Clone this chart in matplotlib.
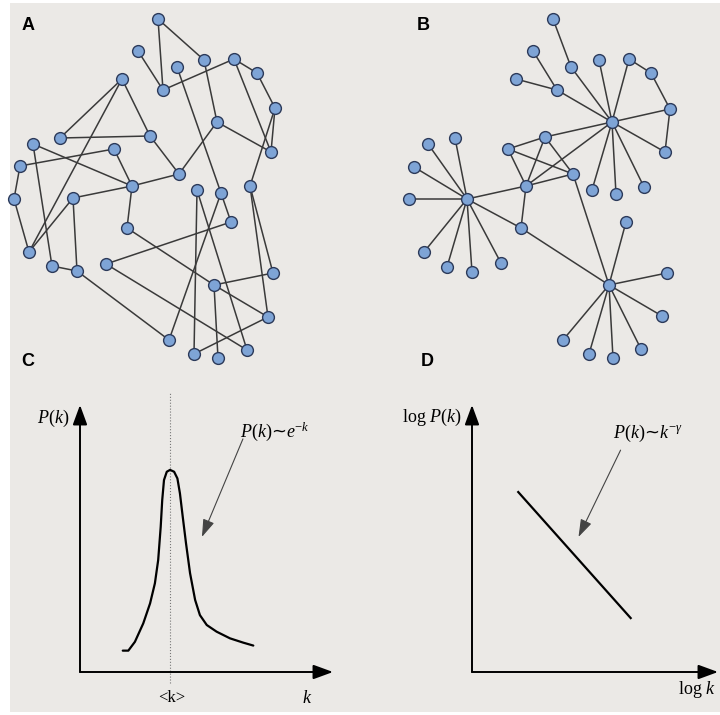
import numpy as np
import matplotlib
matplotlib.use("Agg")
import matplotlib.pyplot as plt
from matplotlib.patches import Rectangle

plt.rcParams['mathtext.fontset'] = 'custom'
plt.rcParams['mathtext.rm'] = 'Liberation Serif'
plt.rcParams['mathtext.it'] = 'Liberation Serif:italic'

# network A: random graph (pixel positions)
a_x = [158, 138, 204, 177, 234, 257, 163, 122, 275, 217, 60, 150, 33, 114, 271, 20, 179, 132,
       197, 221, 250, 14, 73, 231, 127, 29, 52, 77, 106, 273, 214, 268, 169, 194, 218, 247]
a_y = [19, 51, 60, 67, 59, 73, 90, 79, 108, 122, 138, 136, 144, 149, 152, 166, 174, 186,
       190, 193, 186, 199, 198, 222, 228, 252, 266, 271, 264, 273, 285, 317, 340, 354, 358, 350]
a_edges = [(0, 6), (0, 2), (1, 6), (6, 4), (2, 9), (3, 19), (4, 5), (4, 14), (5, 8), (8, 14),
           (8, 20), (9, 14), (9, 16), (7, 10), (7, 11), (7, 25), (10, 11), (11, 16), (12, 17),
           (12, 26), (13, 15), (13, 17), (15, 21), (17, 16), (17, 22), (17, 24), (21, 25),
           (22, 25), (22, 27), (26, 27), (27, 32), (24, 30), (28, 23), (28, 35), (18, 33),
           (18, 35), (19, 23), (19, 32), (20, 29), (20, 31), (30, 29), (30, 31), (30, 34),
           (31, 33)]

# network B: scale-free graph with three hubs
b_x = [553, 533, 571, 599, 629, 651, 516, 557, 670, 612, 545, 508, 665, 455, 428, 414, 573, 526,
       592, 616, 644, 409, 467, 521, 626, 424, 447, 472, 501, 667, 609, 662, 563, 589, 613, 641]
b_y = [19, 51, 67, 60, 59, 73, 79, 90, 109, 122, 137, 149, 152, 138, 144, 167, 174, 186,
       190, 194, 187, 199, 199, 228, 222, 252, 267, 272, 263, 273, 285, 316, 340, 354, 358, 349]
b_edges = [(0, 2), (2, 9), (1, 7), (6, 7), (7, 9), (3, 9), (4, 9), (4, 5), (5, 8), (8, 12),
           (8, 9), (9, 12), (9, 18), (9, 19), (9, 20), (9, 10), (9, 17), (10, 11), (10, 17),
           (10, 16), (11, 17), (11, 16), (16, 17), (17, 22), (17, 23), (22, 23), (23, 30),
           (16, 30), (22, 13), (22, 14), (22, 15), (22, 21), (22, 25), (22, 26), (22, 27),
           (22, 28), (30, 24), (30, 29), (30, 31), (30, 32), (30, 33), (30, 34), (30, 35)]

# panel C: degree distribution sketch (k, P)
c_k = [1.69, 1.91, 2.17, 2.50, 2.77, 2.96, 3.09, 3.19, 3.25, 3.32, 3.43, 3.56, 3.72, 3.85,
       3.95, 4.06, 4.19, 4.35, 4.55, 4.74, 5.01, 5.40, 5.93, 6.45, 6.85]
c_p = [0.080, 0.080, 0.113, 0.182, 0.257, 0.332, 0.419, 0.544, 0.644, 0.719, 0.750, 0.757,
       0.750, 0.725, 0.669, 0.582, 0.482, 0.370, 0.270, 0.213, 0.176, 0.151, 0.126, 0.110, 0.099]
k_mean = 3.56

# panel D: power law on log-log
d_logk = [1.88, 6.45]
d_logp = [0.674, 0.202]

bg = '#ebe9e6'
node_face = '#7ea4d6'
node_edge = '#2c3a5a'

fig = plt.figure(figsize=(7.2, 7.15), dpi=100, facecolor='white')
ax = fig.add_axes([0, 0, 1, 1])
ax.set_xlim(0, 720)
ax.set_ylim(715, 0)
ax.axis('off')
ax.add_patch(Rectangle((10, 3), 710, 709, facecolor=bg, edgecolor='none', zorder=0))


def draw_net(xs, ys, edges):
    for i, j in edges:
        ax.plot([xs[i], xs[j]], [ys[i], ys[j]], color='#3a3a3a', lw=1.1, zorder=2)
    ax.plot(xs, ys, 'o', ms=8.5, mfc=node_face, mec=node_edge, mew=1.0, zorder=3)


draw_net(a_x, a_y, a_edges)
draw_net(b_x, b_y, b_edges)

for lab, x, y in [('A', 28, 26), ('B', 423, 26), ('C', 28, 362), ('D', 427, 362)]:
    ax.text(x, y, lab, fontsize=13, fontweight='bold', family='Liberation Sans',
            ha='center', va='center')

serif = 'Liberation Serif'
ax.text(53, 418, '$P(k)$', fontsize=13, ha='center', va='center')
ax.text(275, 432, '$P(k)$~$e^{-k}$', fontsize=13, ha='center', va='center')
ax.text(172, 698, '<k>', fontsize=12, family=serif, ha='center', va='center')
ax.text(307, 698, '$k$', fontsize=13, ha='center', va='center')
ax.text(432, 417, r'$\mathrm{log}\ P(k)$', fontsize=13, ha='center', va='center')
ax.text(648, 433, r'$P(k)$~$k^{-\gamma}$', fontsize=13, ha='center', va='center')
ax.text(697, 690, r'$\mathrm{log}\ k$', fontsize=13, ha='center', va='center')

axis_arrow = dict(arrowstyle='-|>,head_length=0.6,head_width=0.22', mutation_scale=20,
                  lw=1.4, color='black', shrinkA=0, shrinkB=0)
note_arrow = dict(arrowstyle='-|>,head_length=0.6,head_width=0.2', mutation_scale=18,
                  lw=0.8, color='#444444', shrinkA=0, shrinkB=0)

# panel C axes
axc = fig.add_axes([80 / 720, 43 / 715, 253 / 720, 267 / 715])
axc.set_xlim(0, 10)
axc.set_ylim(0, 1)
axc.axis('off')
axc.annotate('', xy=(0, 1), xytext=(0, 0), xycoords='axes fraction', arrowprops=axis_arrow)
axc.annotate('', xy=(1, 0), xytext=(0, 0), xycoords='axes fraction', arrowprops=axis_arrow)
axc.plot([k_mean, k_mean], [-0.041, 1.049], ls=':', lw=0.8, color='#777777', clip_on=False)
axc.plot(c_k, c_p, color='black', lw=1.6, solid_capstyle='round', solid_joinstyle='round')
axc.annotate('', xy=(4.82, 0.506), xytext=(6.44, 0.873), arrowprops=note_arrow)

# panel D axes
axd = fig.add_axes([472 / 720, 43 / 715, 246 / 720, 267 / 715])
axd.set_xlim(0, 10)
axd.set_ylim(0, 1)
axd.axis('off')
axd.annotate('', xy=(0, 1), xytext=(0, 0), xycoords='axes fraction', arrowprops=axis_arrow)
axd.annotate('', xy=(1, 0), xytext=(0, 0), xycoords='axes fraction', arrowprops=axis_arrow)
axd.plot(d_logk, d_logp, color='black', lw=1.6)
axd.annotate('', xy=(4.33, 0.506), xytext=(6.04, 0.831), arrowprops=note_arrow)

fig.savefig('out.png', dpi=100, facecolor='white')
